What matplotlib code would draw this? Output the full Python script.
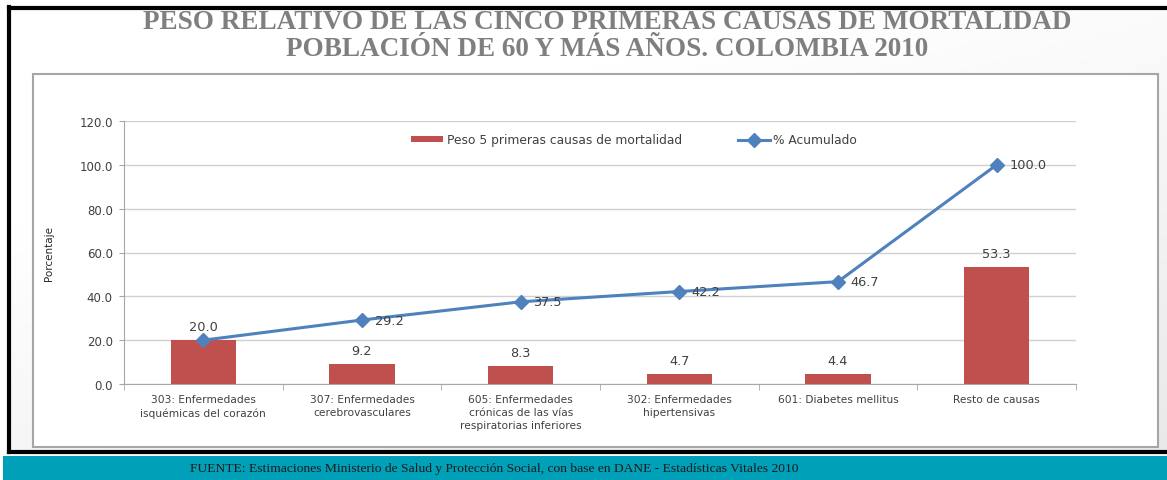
import matplotlib
matplotlib.use("Agg")
import matplotlib.pyplot as plt
from matplotlib.patches import Rectangle
from matplotlib.lines import Line2D
import numpy as np

categories = [
    "303: Enfermedades\nisquémicas del corazón",
    "307: Enfermedades\ncerebrovasculares",
    "605: Enfermedades\ncrónicas de las vías\nrespiratorias inferiores",
    "302: Enfermedades\nhipertensivas",
    "601: Diabetes mellitus",
    "Resto de causas",
]
peso = [20.0, 9.2, 8.3, 4.7, 4.4, 53.3]
acumulado = [20.0, 29.2, 37.5, 42.2, 46.7, 100.0]
yticks = [0, 20, 40, 60, 80, 100, 120]

title = "PESO RELATIVO DE LAS CINCO PRIMERAS CAUSAS DE MORTALIDAD\nPOBLACIÓN DE 60 Y MÁS AÑOS. COLOMBIA 2010"
fuente = "FUENTE: Estimaciones Ministerio de Salud y Protección Social, con base en DANE - Estadísticas Vitales 2010"

W, H = 1167, 481
fig = plt.figure(figsize=(W / 100, H / 100), dpi=100)
fig.patch.set_facecolor("white")


def fx(px):
    return px / W


def fy(py):
    return 1 - py / H


def rect(x0, y0, x1, y1, **kw):
    r = Rectangle((fx(x0), fy(y1)), fx(x1) - fx(x0), fy(y0) - fy(y1),
                  transform=fig.transFigure, **kw)
    fig.add_artist(r)
    return r


# gradient panel between black frame and chart box
bg = fig.add_axes([fx(9), fy(452), fx(1167) - fx(9), fy(9) - fy(452)])
bg.set_zorder(-2)
yy = np.linspace(0, 1, 200)[:, None]
xx = np.linspace(0, 1, 300)[None, :]
shade = 1 - 0.10 * np.clip(yy * 0.7 + xx * 0.5 - 0.35, 0, 1)
bg.imshow(np.dstack([shade] * 3), aspect="auto", extent=(0, 1, 0, 1), origin="upper")
bg.axis("off")

# chart box
rect(33, 75, 1158, 448, facecolor="white", edgecolor="#a6a6a6", linewidth=1.5, zorder=0.5)
# black frame lines
fig.add_artist(Line2D([fx(9), fx(1167)], [fy(8.5), fy(8.5)], color="black", lw=3, transform=fig.transFigure))
fig.add_artist(Line2D([fx(9), fx(9)], [fy(8), fy(453)], color="black", lw=3, transform=fig.transFigure))
fig.add_artist(Line2D([fx(9), fx(1167)], [fy(452.5), fy(452.5)], color="black", lw=3, transform=fig.transFigure))
# teal footer band
rect(3, 457, 1167, 481, facecolor="#00a0b8", edgecolor="none", zorder=1)

fig.text(fx(607), fy(36), title, ha="center", va="center", fontsize=19.5,
         fontweight="bold", family="Liberation Serif", color="#7f7f7f",
         linespacing=1.08, zorder=3)
fig.text(fx(190), fy(469), fuente, ha="left", va="center", fontsize=9.7,
         family="Liberation Serif", color="#1a1a1a", zorder=3)

ax = fig.add_axes([fx(124), fy(385), fx(1076) - fx(124), fy(122) - fy(385)])
ax.set_facecolor("white")
ax.set_zorder(2)

x = np.arange(len(categories))
bars = ax.bar(x, peso, width=0.41, color="#c0504d", zorder=2,
              label="Peso 5 primeras causas de mortalidad")
line, = ax.plot(x, acumulado, color="#4f81bd", lw=2.2, marker="D", markersize=7,
                zorder=3, label="% Acumulado")

lblkw = dict(fontsize=9.3, color="#404040", family="DejaVu Sans")
for xi, v in zip(x, peso):
    ax.annotate(f"{v:.1f}", (xi, v), xytext=(0, 5), textcoords="offset points",
                ha="center", va="bottom", **lblkw)
for xi, v in list(zip(x, acumulado))[1:]:
    ax.annotate(f"{v:.1f}", (xi, v), xytext=(9, 0), textcoords="offset points",
                ha="left", va="center", **lblkw)

ax.set_xlim(-0.5, len(categories) - 0.5)
ax.set_ylim(0, 120)
ax.set_yticks(yticks)
ax.set_yticklabels([f"{t:.1f}" for t in yticks], fontsize=8.5, color="#404040",
                   family="DejaVu Sans")
ax.set_xticks(x)
ax.set_xticklabels(categories, fontsize=7.7, color="#404040", family="DejaVu Sans",
                   linespacing=1.4)
ax.tick_params(axis="x", which="major", length=0, pad=7)
ax.set_xticks(np.arange(-0.5, len(categories), 1.0), minor=True)
ax.tick_params(axis="x", which="minor", length=4, color="#a6a6a6")
ax.tick_params(axis="y", length=3.6, color="#a6a6a6", pad=4.5)

ax.grid(axis="y", color="#d0d0d0", lw=1, zorder=0)
ax.set_axisbelow(True)
for s in ["top", "right"]:
    ax.spines[s].set_visible(False)
ax.spines["left"].set_color("#a6a6a6")
ax.spines["bottom"].set_color("#a6a6a6")

ax.set_ylabel("Porcentaje", fontsize=7.5, color="#262626", family="DejaVu Sans",
              labelpad=18)

leg = ax.legend([bars, line], ["Peso 5 primeras causas de mortalidad", "% Acumulado"],
                loc="center", bbox_to_anchor=(0.536, 0.928), ncol=2, frameon=False,
                fontsize=8.8, handlelength=2.6, handleheight=0.45, columnspacing=4.6,
                handletextpad=0.3)
for t in leg.get_texts():
    t.set_color("#404040")
    t.set_family("DejaVu Sans")

fig.savefig("out.png", dpi=100, facecolor=fig.get_facecolor())
